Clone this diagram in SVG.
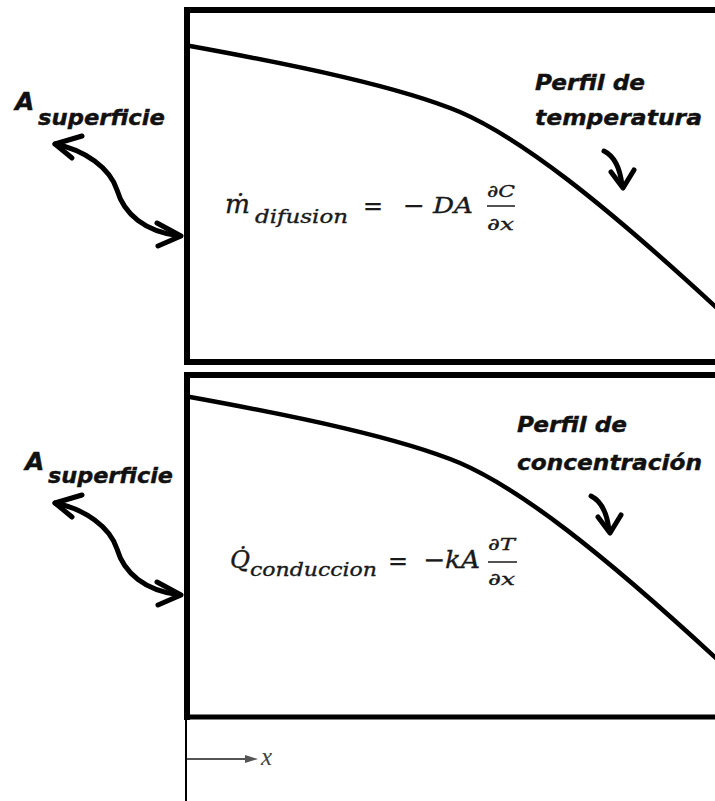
<svg xmlns="http://www.w3.org/2000/svg" width="715" height="801" viewBox="0 0 715 801">
<defs>
<style>
.box{fill:none;stroke:#000;stroke-width:6}
.curve{fill:none;stroke:#000;stroke-width:4.5;stroke-linecap:round}
.arr{fill:none;stroke:#000;stroke-width:5;stroke-linecap:round;stroke-linejoin:round}
.lbl{font-family:"DejaVu Sans","Liberation Sans",sans-serif;font-weight:bold;font-style:italic;fill:#111;stroke:#111;stroke-width:0.4}
.math{font-family:"DejaVu Serif","Liberation Serif",serif;fill:#1a1a1a;stroke:#1a1a1a;stroke-width:0.35}
.it{font-style:italic}
</style>
</defs>
<rect width="715" height="801" fill="#fff"/>
<g id="box-top">
<rect class="box" x="187" y="10" width="600" height="352"/>
</g>
<g id="box-bottom">
<path d="M187,720 V375 H720" class="box"/>
<line x1="187" y1="717" x2="720" y2="717" stroke="#000" stroke-width="5"/>
<line x1="186" y1="717" x2="186" y2="801" stroke="#000" stroke-width="2"/>
</g>
<g id="curve-top">
<path class="curve" d="M190,46 C300,66 400,87 460,112 C520,138 600,200 718,309"/>
</g>
<g id="curve-bottom">
<path class="curve" d="M190,46 C300,66 400,87 460,112 C520,138 600,200 718,309" transform="translate(0,351)"/>
</g>
<g id="label-area-top">
<text class="lbl" x="15" y="110" font-size="25">A</text>
<text class="lbl" x="38" y="125" font-size="22" textLength="127" lengthAdjust="spacingAndGlyphs">superficie</text>
</g>
<g id="label-area-bottom">
<text class="lbl" x="25" y="470" font-size="25">A</text>
<text class="lbl" x="48" y="483" font-size="22" textLength="125" lengthAdjust="spacingAndGlyphs">superficie</text>
</g>
<g id="label-profile-top">
<text class="lbl" x="535" y="90" font-size="22" textLength="110" lengthAdjust="spacingAndGlyphs">Perfil de</text>
<text class="lbl" x="535" y="125" font-size="22" textLength="167" lengthAdjust="spacingAndGlyphs">temperatura</text>
</g>
<g id="label-profile-bottom">
<text class="lbl" x="517" y="432" font-size="22" textLength="110" lengthAdjust="spacingAndGlyphs">Perfil de</text>
<text class="lbl" x="517" y="470" font-size="22" textLength="185" lengthAdjust="spacingAndGlyphs">concentración</text>
</g>
<g id="eq-top" class="math">
<text class="it" x="225" y="213" font-size="26" textLength="25" lengthAdjust="spacingAndGlyphs">ṁ</text>
<text class="it" x="255" y="223" font-size="18" textLength="93" lengthAdjust="spacingAndGlyphs">difusion</text>
<text x="363" y="214" font-size="25" textLength="20" lengthAdjust="spacingAndGlyphs">=</text>
<text x="403" y="214" font-size="25" textLength="22" lengthAdjust="spacingAndGlyphs">−</text>
<text class="it" x="433" y="213" font-size="23" textLength="40" lengthAdjust="spacingAndGlyphs">DA</text>
<text class="it" x="487" y="197" font-size="17" textLength="28" lengthAdjust="spacingAndGlyphs">∂C</text>
<line x1="487" y1="206" x2="515" y2="206" stroke="#1a1a1a" stroke-width="1.5"/>
<text class="it" x="487" y="230" font-size="17" textLength="27" lengthAdjust="spacingAndGlyphs">∂x</text>
</g>
<g id="eq-bottom" class="math">
<text class="it" x="230" y="568" font-size="24" textLength="20" lengthAdjust="spacingAndGlyphs">Q̇</text>
<text class="it" x="250" y="576" font-size="18" textLength="127" lengthAdjust="spacingAndGlyphs">conduccion</text>
<text x="388" y="569" font-size="25" textLength="20" lengthAdjust="spacingAndGlyphs">=</text>
<text class="it" x="423" y="568" font-size="24" textLength="57" lengthAdjust="spacingAndGlyphs">−kA</text>
<text class="it" x="488" y="550" font-size="17" textLength="27" lengthAdjust="spacingAndGlyphs">∂T</text>
<line x1="488" y1="562" x2="517" y2="562" stroke="#1a1a1a" stroke-width="1.5"/>
<text class="it" x="488" y="585" font-size="17" textLength="27" lengthAdjust="spacingAndGlyphs">∂x</text>
</g>
<g id="x-axis">
<line x1="187" y1="759" x2="247" y2="759" stroke="#555" stroke-width="2"/>
<polygon points="245,755 258,759 245,763" fill="#555"/>
<text x="261" y="765" font-size="25" font-style="italic" font-family="Liberation Serif, serif" fill="#444">x</text>
</g>
<g id="connectors">
<g id="arrow-area-top">
<path class="arr" d="M55,144 C85,150 110,168 117,190 C124,214 145,232 180,236"/>
<polyline class="arr" points="82,136 55,144 72,158"/>
<polyline class="arr" points="157,223 181,236 158,246"/>
</g>
<g id="arrow-area-bottom" transform="translate(0,359)">
<path class="arr" d="M55,144 C85,150 110,168 117,190 C124,214 145,232 180,236"/>
<polyline class="arr" points="82,136 55,144 72,158"/>
<polyline class="arr" points="157,223 181,236 158,246"/>
</g>
<g id="arrow-profile-top">
<path class="arr" d="M604,151 C614,156 620,168 622,185"/>
<polyline class="arr" points="611,172 623,188 634,170"/>
</g>
<g id="arrow-profile-bottom" transform="translate(-13,345)">
<path class="arr" d="M604,151 C614,156 620,168 622,185"/>
<polyline class="arr" points="611,172 623,188 634,170"/>
</g>
</g>
</svg>
